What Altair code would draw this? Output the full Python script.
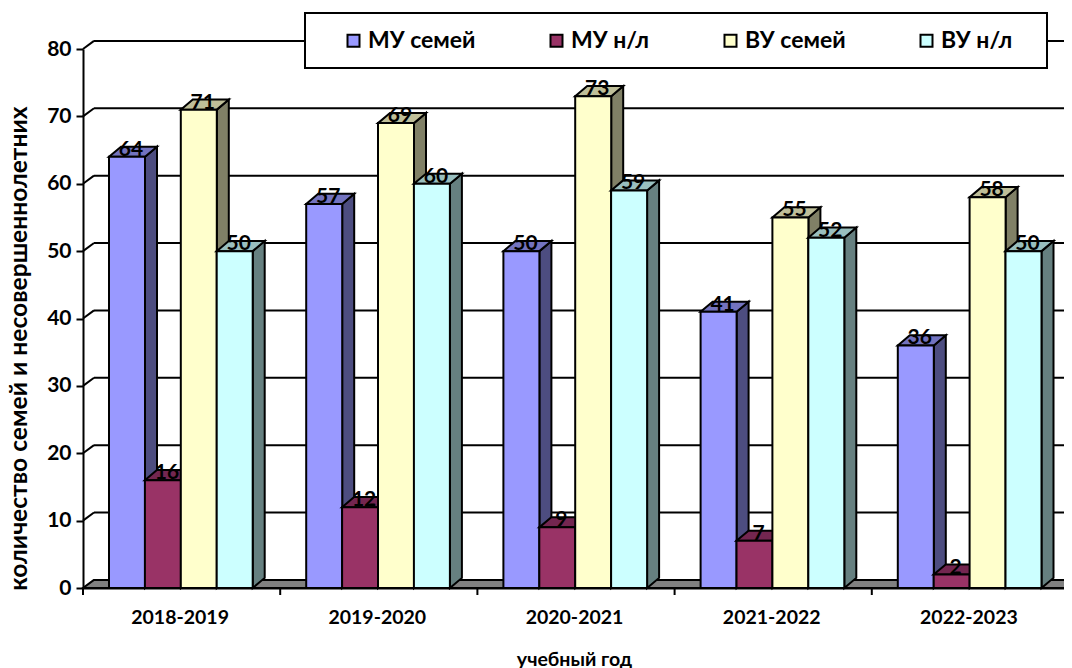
import altair as alt
import pandas as pd

years = ["2018-2019", "2019-2020", "2020-2021", "2021-2022", "2022-2023"]
series_names = ["МУ семей", "МУ н/л", "ВУ семей", "ВУ н/л"]
mu_fam = [64, 57, 50, 41, 36]
mu_nl = [16, 12, 9, 7, 2]
vu_fam = [71, 69, 73, 55, 58]
vu_nl = [50, 60, 59, 52, 50]
all_values = [mu_fam, mu_nl, vu_fam, vu_nl]
front_cols = ["#9999FF", "#993366", "#FFFFCC", "#CCFFFF"]
top_cols = ["#7373BF", "#732650", "#BFBF99", "#99BFBF"]
side_cols = ["#4D4D80", "#4D1A33", "#808066", "#668080"]
y_ticks = [0, 10, 20, 30, 40, 50, 60, 70, 80]

FONT = "Lato"
W, H = 986, 539
BAR_W = 36 / 197.2
BAR_START = 26 / 197.2
BAR_STEP = 35.9 / 197.2
DX = 12 / 197.2
DY = 1.5
WALL_DX = 11 / 197.2
WALL_DY = 1.2
LW = 2

xs = alt.Scale(domain=[0, 5], nice=False, zero=False)
ys = alt.Scale(domain=[0, 80], nice=False)
x_axis = alt.Axis(
    values=[0.5, 1.5, 2.5, 3.5, 4.5],
    labelExpr="['2018-2019','2019-2020','2020-2021','2021-2022','2022-2023'][floor(datum.value)]",
    ticks=False, grid=False, domainColor="black", domainWidth=2,
    labelFont=FONT, labelFontWeight="bold", labelFontSize=19.5, labelColor="black",
    labelPadding=20, labelOffset=-2, title="учебный год", titleFont=FONT, titleFontWeight="bold",
    titleFontSize=19.5, titleColor="black", titleY=62, titleX=491)
y_axis = alt.Axis(
    values=y_ticks, tickSize=7, tickColor="black", tickWidth=LW, grid=False,
    domainColor="black", domainWidth=LW,
    labelFont=FONT, labelFontWeight="bold", labelFontSize=21, labelColor="black",
    labelPadding=5, title="количество семей и несовершеннолетних",
    titleFont=FONT, titleFontWeight="bold", titleFontSize=24.6, titleColor="black",
    titleX=-52, titleY=299)
X = alt.X("x:Q", scale=xs, axis=x_axis)
X2 = alt.X2("x2:Q")
Y = alt.Y("y:Q", scale=ys, axis=y_axis, stack=None)
Y2 = alt.Y2("y2:Q")
STROKE = dict(stroke="black", strokeWidth=LW)

# back grid
grid = pd.DataFrame({"x": [WALL_DX] * len(y_ticks), "x2": [5 + WALL_DX] * len(y_ticks),
                     "y": [v + WALL_DY for v in y_ticks]})
axis_layer = alt.Chart(grid).mark_rule(color="black", strokeWidth=LW).encode(x=X, x2=X2, y=Y)
slant = pd.DataFrame([{"v": v, "x": a, "y": v + b}
                      for v in y_ticks[1:] for a, b in [(0, 0), (WALL_DX, WALL_DY)]])
slant_layer = alt.Chart(slant).mark_line(color="black", strokeWidth=LW).encode(x=X, y=Y, detail="v:N")

x_tick_df = pd.DataFrame({"x": list(range(6))})
x_ticks_layer = alt.Chart(x_tick_df).mark_rule(color="black", strokeWidth=LW).encode(
    x=X, y=alt.value(H), y2=alt.value(H + 7))

floor = pd.DataFrame({"y": [0, WALL_DY], "x": [0, WALL_DX], "x2": [5, 5 + WALL_DX]})
floor_layer = alt.Chart(floor).mark_area(orient="horizontal", color="#808080", **STROKE).encode(
    x=X, x2=X2, y=Y)

rows = []
for s, name in enumerate(series_names):
    for g, year in enumerate(years):
        left = g + BAR_START + s * BAR_STEP
        rows.append(dict(s=s, name=name, g=g, year=year, v=all_values[s][g],
                         left=left, right=left + BAR_W))
bars = pd.DataFrame(rows)

layers = [axis_layer, slant_layer, x_ticks_layer, floor_layer]
frame_layer = alt.Chart(pd.DataFrame({"a": [1]})).mark_rect(fill="white", stroke="black", strokeWidth=2).encode(
    x=alt.value(222), x2=alt.value(964), y=alt.value(-36), y2=alt.value(19))
for s, name in enumerate(series_names):
    sub = bars[bars.s == s]
    side = pd.DataFrame([r for _, b in sub.iterrows() for r in (
        dict(g=b.g, x=b.right, y=b.v, y2=0),
        dict(g=b.g, x=b.right + DX, y=b.v + DY, y2=DY))])
    top = pd.DataFrame([r for _, b in sub.iterrows() for r in (
        dict(g=b.g, x=b.left, x2=b.right, y=b.v),
        dict(g=b.g, x=b.left + DX, x2=b.right + DX, y=b.v + DY))])
    front = pd.DataFrame(dict(x=sub.left.values, x2=sub.right.values, y=sub.v.values,
                              y2=[0] * len(sub), name=sub.name.values))
    layers.append(alt.Chart(side).mark_area(color=side_cols[s], **STROKE).encode(
        x=X, y=Y, y2=Y2, detail="g:N"))
    layers.append(alt.Chart(top).mark_area(orient="horizontal", color=top_cols[s], **STROKE).encode(
        x=X, x2=X2, y=Y, detail="g:N"))
    layers.append(alt.Chart(front).mark_rect(**STROKE).encode(
        x=X, x2=X2, y=Y, y2=Y2,
        color=alt.Color("name:N", title=None,
                        scale=alt.Scale(domain=series_names, range=front_cols),
                        legend=alt.Legend(orient="none", legendX=259, legendY=-20, direction="horizontal",
                                          columns=4, columnPadding=69, padding=0, symbolType="square",
                                          symbolSize=144, symbolStrokeColor="black", symbolStrokeWidth=2,
                                          labelFont=FONT, labelFontWeight="bold", labelFontSize=23,
                                          labelColor="black", labelOffset=3))))

layers.append(frame_layer)

labels = pd.DataFrame(dict(x=(bars.left + BAR_W / 2).values, y=bars.v.values))
layers.append(alt.Chart(labels).mark_text(font=FONT, fontWeight="bold", fontSize=21, color="black",
                                          dx=4, dy=-7).encode(x=X, y=Y, text=alt.Text("y:Q")))

chart = alt.layer(*layers).properties(
    width=W, height=H,
    autosize=alt.AutoSizeParams(type="none"),
    padding={"left": 75, "top": 41, "right": -5, "bottom": 80},
).configure_view(stroke=None)

chart.save("out.html", embed_options={"renderer": "svg", "actions": False})
